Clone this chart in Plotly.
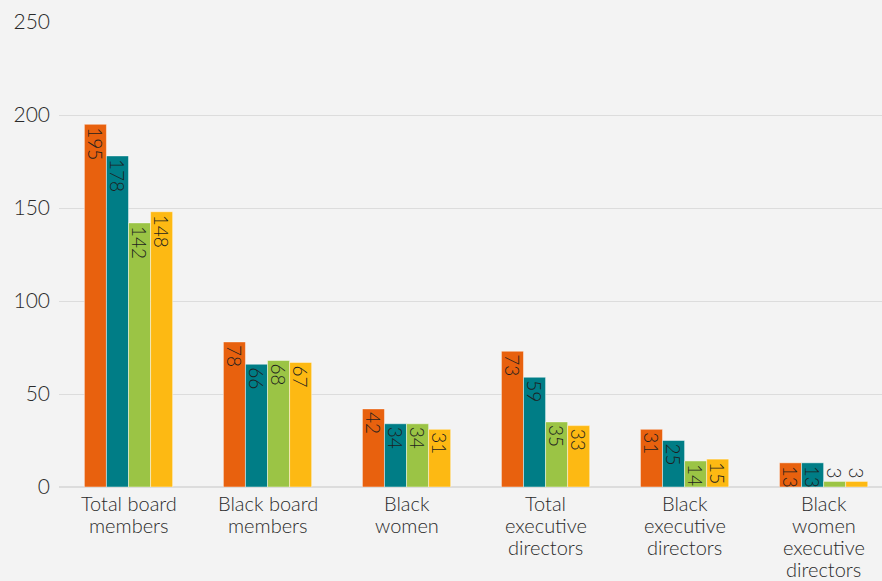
import plotly.graph_objects as go

categories = [
    "Total board<br>members",
    "Black board<br>members",
    "Black<br>women",
    "Total<br>executive<br>directors",
    "Black<br>executive<br>directors",
    "Black<br>women<br>executive<br>directors",
]
series_a = [195, 78, 42, 73, 31, 13]
series_b = [178, 66, 34, 59, 25, 13]
series_c = [142, 68, 34, 35, 14, 3]
series_d = [148, 67, 31, 33, 15, 3]

colors = ["#E8610E", "#007D86", "#9BC445", "#FDB913"]
font_family = "Lato, 'Open Sans', sans-serif"

fig = go.Figure()
for vals, col in zip([series_a, series_b, series_c, series_d], colors):
    fig.add_trace(go.Bar(
        x=categories,
        y=vals,
        marker=dict(color=col, line=dict(color="rgba(255,255,255,0.45)", width=1)),
        text=[str(v) for v in vals],
        textangle=90,
        textposition=["outside" if v < 8 else "inside" for v in vals],
        insidetextanchor="end",
        textfont=dict(family=font_family, size=19, color="#1e1e1e", weight=300),
        cliponaxis=False,
        hoverinfo="skip",
    ))

# Category labels: one annotation per line for tighter line spacing
line_gap = 22
for cat in categories:
    for i, line in enumerate(cat.split("<br>")):
        fig.add_annotation(
            x=cat, y=0, xref="x", yref="y",
            text=line, showarrow=False,
            yanchor="middle", xanchor="center",
            yshift=-(16 + i * line_gap),
            font=dict(family=font_family, size=20, color="#2a2a2a", weight=300),
        )

fig.update_layout(
    width=882,
    height=581,
    barmode="group",
    bargap=0.365,
    bargroupgap=0,
    showlegend=False,
    paper_bgcolor="#F3F3F3",
    plot_bgcolor="#F3F3F3",
    margin=dict(l=59, r=0, t=22, b=94),
    font=dict(family=font_family, color="#2a2a2a"),
    uniformtext=dict(minsize=19, mode="show"),
    xaxis=dict(
        range=[-0.5, 5.42],
        showgrid=False,
        showline=False,
        zeroline=False,
        ticks="",
        showticklabels=False,
        automargin=False,
    ),
    yaxis=dict(
        range=[0, 250],
        dtick=50,
        showgrid=True,
        gridcolor="#DCDCDC",
        gridwidth=1,
        zeroline=True,
        zerolinecolor="#DCDCDC",
        showline=False,
        ticks="",
        ticklabelstandoff=8,
        automargin=False,
        tickfont=dict(size=21, color="#2a2a2a", weight=300),
    ),
)

fig.write_html("out.html")
